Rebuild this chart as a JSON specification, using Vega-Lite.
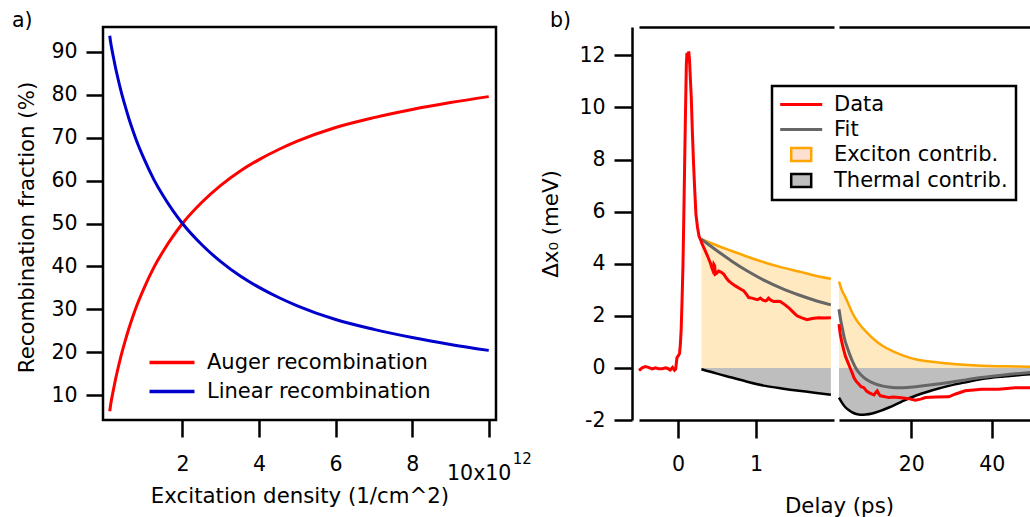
{
  "$schema": "https://vega.github.io/schema/vega-lite/v6.json",
  "padding": {"left": 10, "top": 9, "right": 0, "bottom": 0},
  "background": "white",
  "config": {
    "font": "DejaVu Sans",
    "view": {"stroke": null},
    "axis": {
      "labelFont": "DejaVu Sans", "labelFontSize": 20.5, "labelColor": "black",
      "titleFont": "DejaVu Sans", "titleFontSize": 21.3, "titleFontWeight": "normal", "titleColor": "black",
      "tickColor": "black", "tickWidth": 2.5, "domainColor": "black", "domainWidth": 2.5,
      "grid": false, "labelFlush": false, "labelOverlap": false
    },
    "legend": {"labelFont": "DejaVu Sans", "labelFontSize": 21, "labelColor": "black", "labelLimit": 400},
    "title": {"font": "DejaVu Sans", "fontSize": 20.5, "fontWeight": "normal", "color": "black"}
  },
  "datasets": {
    "recomb": [
      {"series": "Auger recombination", "x": 0.1, "y": 6.2},
      {"series": "Auger recombination", "x": 0.125, "y": 7.8},
      {"series": "Auger recombination", "x": 0.15, "y": 9.1},
      {"series": "Auger recombination", "x": 0.2, "y": 11.4},
      {"series": "Auger recombination", "x": 0.25, "y": 13.6},
      {"series": "Auger recombination", "x": 0.3, "y": 15.6},
      {"series": "Auger recombination", "x": 0.4, "y": 19.3},
      {"series": "Auger recombination", "x": 0.5, "y": 22.5},
      {"series": "Auger recombination", "x": 0.6, "y": 25.5},
      {"series": "Auger recombination", "x": 0.7, "y": 28.2},
      {"series": "Auger recombination", "x": 0.8, "y": 30.7},
      {"series": "Auger recombination", "x": 1.0, "y": 35.0},
      {"series": "Auger recombination", "x": 1.25, "y": 39.7},
      {"series": "Auger recombination", "x": 1.5, "y": 43.6},
      {"series": "Auger recombination", "x": 1.75, "y": 47.0},
      {"series": "Auger recombination", "x": 2.0, "y": 50.0},
      {"series": "Auger recombination", "x": 2.5, "y": 54.9},
      {"series": "Auger recombination", "x": 3.0, "y": 58.9},
      {"series": "Auger recombination", "x": 3.5, "y": 62.2},
      {"series": "Auger recombination", "x": 4.0, "y": 64.9},
      {"series": "Auger recombination", "x": 4.5, "y": 67.2},
      {"series": "Auger recombination", "x": 5.0, "y": 69.2},
      {"series": "Auger recombination", "x": 6.0, "y": 72.4},
      {"series": "Auger recombination", "x": 7.0, "y": 74.7},
      {"series": "Auger recombination", "x": 8.0, "y": 76.6},
      {"series": "Auger recombination", "x": 9.0, "y": 78.2},
      {"series": "Auger recombination", "x": 10.0, "y": 79.6},
      {"series": "Linear recombination", "x": 0.1, "y": 93.8},
      {"series": "Linear recombination", "x": 0.125, "y": 92.2},
      {"series": "Linear recombination", "x": 0.15, "y": 90.9},
      {"series": "Linear recombination", "x": 0.2, "y": 88.6},
      {"series": "Linear recombination", "x": 0.25, "y": 86.4},
      {"series": "Linear recombination", "x": 0.3, "y": 84.4},
      {"series": "Linear recombination", "x": 0.4, "y": 80.7},
      {"series": "Linear recombination", "x": 0.5, "y": 77.5},
      {"series": "Linear recombination", "x": 0.6, "y": 74.5},
      {"series": "Linear recombination", "x": 0.7, "y": 71.8},
      {"series": "Linear recombination", "x": 0.8, "y": 69.3},
      {"series": "Linear recombination", "x": 1.0, "y": 65.0},
      {"series": "Linear recombination", "x": 1.25, "y": 60.3},
      {"series": "Linear recombination", "x": 1.5, "y": 56.4},
      {"series": "Linear recombination", "x": 1.75, "y": 53.0},
      {"series": "Linear recombination", "x": 2.0, "y": 50.0},
      {"series": "Linear recombination", "x": 2.5, "y": 45.1},
      {"series": "Linear recombination", "x": 3.0, "y": 41.1},
      {"series": "Linear recombination", "x": 3.5, "y": 37.8},
      {"series": "Linear recombination", "x": 4.0, "y": 35.1},
      {"series": "Linear recombination", "x": 4.5, "y": 32.8},
      {"series": "Linear recombination", "x": 5.0, "y": 30.8},
      {"series": "Linear recombination", "x": 6.0, "y": 27.6},
      {"series": "Linear recombination", "x": 7.0, "y": 25.3},
      {"series": "Linear recombination", "x": 8.0, "y": 23.4},
      {"series": "Linear recombination", "x": 9.0, "y": 21.8},
      {"series": "Linear recombination", "x": 10.0, "y": 20.4}
    ],
    "delay": [
      {"seg": 1, "series": "Data", "x": -0.5, "y": -0.1},
      {"seg": 1, "series": "Data", "x": -0.46, "y": 0.0},
      {"seg": 1, "series": "Data", "x": -0.42, "y": 0.05},
      {"seg": 1, "series": "Data", "x": -0.38, "y": 0.02},
      {"seg": 1, "series": "Data", "x": -0.33, "y": -0.04},
      {"seg": 1, "series": "Data", "x": -0.29, "y": 0.0},
      {"seg": 1, "series": "Data", "x": -0.25, "y": -0.03},
      {"seg": 1, "series": "Data", "x": -0.2, "y": -0.03},
      {"seg": 1, "series": "Data", "x": -0.16, "y": 0.0},
      {"seg": 1, "series": "Data", "x": -0.13, "y": -0.02},
      {"seg": 1, "series": "Data", "x": -0.1, "y": -0.08},
      {"seg": 1, "series": "Data", "x": -0.07, "y": 0.02},
      {"seg": 1, "series": "Data", "x": -0.045, "y": -0.09},
      {"seg": 1, "series": "Data", "x": -0.03, "y": -0.05},
      {"seg": 1, "series": "Data", "x": -0.013, "y": 0.4},
      {"seg": 1, "series": "Data", "x": 0.0, "y": 0.45},
      {"seg": 1, "series": "Data", "x": 0.02, "y": 0.55},
      {"seg": 1, "series": "Data", "x": 0.03, "y": 0.9},
      {"seg": 1, "series": "Data", "x": 0.04, "y": 1.42},
      {"seg": 1, "series": "Data", "x": 0.052, "y": 2.6},
      {"seg": 1, "series": "Data", "x": 0.064, "y": 3.98},
      {"seg": 1, "series": "Data", "x": 0.075, "y": 5.9},
      {"seg": 1, "series": "Data", "x": 0.085, "y": 7.8},
      {"seg": 1, "series": "Data", "x": 0.096, "y": 9.8},
      {"seg": 1, "series": "Data", "x": 0.107, "y": 11.66},
      {"seg": 1, "series": "Data", "x": 0.115, "y": 12.1},
      {"seg": 1, "series": "Data", "x": 0.127, "y": 11.9},
      {"seg": 1, "series": "Data", "x": 0.138, "y": 12.15},
      {"seg": 1, "series": "Data", "x": 0.148, "y": 11.8},
      {"seg": 1, "series": "Data", "x": 0.16, "y": 11.0},
      {"seg": 1, "series": "Data", "x": 0.17, "y": 10.4},
      {"seg": 1, "series": "Data", "x": 0.185, "y": 9.0},
      {"seg": 1, "series": "Data", "x": 0.2, "y": 7.8},
      {"seg": 1, "series": "Data", "x": 0.215, "y": 6.8},
      {"seg": 1, "series": "Data", "x": 0.23, "y": 5.9},
      {"seg": 1, "series": "Data", "x": 0.25, "y": 5.4},
      {"seg": 1, "series": "Data", "x": 0.27, "y": 5.05},
      {"seg": 1, "series": "Data", "x": 0.29, "y": 4.92},
      {"seg": 1, "series": "Data", "x": 0.31, "y": 4.75},
      {"seg": 1, "series": "Data", "x": 0.35, "y": 4.49},
      {"seg": 1, "series": "Data", "x": 0.385, "y": 4.25},
      {"seg": 1, "series": "Data", "x": 0.414, "y": 4.04},
      {"seg": 1, "series": "Data", "x": 0.432, "y": 3.85},
      {"seg": 1, "series": "Data", "x": 0.445, "y": 3.75},
      {"seg": 1, "series": "Data", "x": 0.458, "y": 3.98},
      {"seg": 1, "series": "Data", "x": 0.47, "y": 3.92},
      {"seg": 1, "series": "Data", "x": 0.478, "y": 3.6},
      {"seg": 1, "series": "Data", "x": 0.495, "y": 3.63},
      {"seg": 1, "series": "Data", "x": 0.52, "y": 3.72},
      {"seg": 1, "series": "Data", "x": 0.55, "y": 3.68},
      {"seg": 1, "series": "Data", "x": 0.586, "y": 3.6},
      {"seg": 1, "series": "Data", "x": 0.62, "y": 3.45},
      {"seg": 1, "series": "Data", "x": 0.65, "y": 3.34},
      {"seg": 1, "series": "Data", "x": 0.7, "y": 3.22},
      {"seg": 1, "series": "Data", "x": 0.735, "y": 3.15},
      {"seg": 1, "series": "Data", "x": 0.79, "y": 3.05},
      {"seg": 1, "series": "Data", "x": 0.842, "y": 2.96},
      {"seg": 1, "series": "Data", "x": 0.875, "y": 2.84},
      {"seg": 1, "series": "Data", "x": 0.906, "y": 2.7},
      {"seg": 1, "series": "Data", "x": 0.95, "y": 2.68},
      {"seg": 1, "series": "Data", "x": 0.99, "y": 2.64},
      {"seg": 1, "series": "Data", "x": 1.02, "y": 2.62},
      {"seg": 1, "series": "Data", "x": 1.055, "y": 2.68},
      {"seg": 1, "series": "Data", "x": 1.09, "y": 2.6},
      {"seg": 1, "series": "Data", "x": 1.12, "y": 2.57},
      {"seg": 1, "series": "Data", "x": 1.14, "y": 2.6},
      {"seg": 1, "series": "Data", "x": 1.16, "y": 2.68},
      {"seg": 1, "series": "Data", "x": 1.19, "y": 2.6},
      {"seg": 1, "series": "Data", "x": 1.227, "y": 2.55},
      {"seg": 1, "series": "Data", "x": 1.27, "y": 2.56},
      {"seg": 1, "series": "Data", "x": 1.31, "y": 2.55},
      {"seg": 1, "series": "Data", "x": 1.36, "y": 2.45},
      {"seg": 1, "series": "Data", "x": 1.42, "y": 2.31},
      {"seg": 1, "series": "Data", "x": 1.47, "y": 2.16},
      {"seg": 1, "series": "Data", "x": 1.525, "y": 2.0},
      {"seg": 1, "series": "Data", "x": 1.58, "y": 1.93},
      {"seg": 1, "series": "Data", "x": 1.654, "y": 1.85},
      {"seg": 1, "series": "Data", "x": 1.72, "y": 1.9},
      {"seg": 1, "series": "Data", "x": 1.8, "y": 1.93},
      {"seg": 1, "series": "Data", "x": 1.88, "y": 1.92},
      {"seg": 1, "series": "Data", "x": 1.96, "y": 1.93},
      {"seg": 1, "series": "Fit", "x": 0.3, "y": 4.94},
      {"seg": 1, "series": "Fit", "x": 0.5, "y": 4.5},
      {"seg": 1, "series": "Fit", "x": 0.69, "y": 4.1},
      {"seg": 1, "series": "Fit", "x": 0.9, "y": 3.7},
      {"seg": 1, "series": "Fit", "x": 1.12, "y": 3.34},
      {"seg": 1, "series": "Fit", "x": 1.33, "y": 3.05},
      {"seg": 1, "series": "Fit", "x": 1.55, "y": 2.8},
      {"seg": 1, "series": "Fit", "x": 1.75, "y": 2.6},
      {"seg": 1, "series": "Fit", "x": 1.96, "y": 2.42},
      {"seg": 1, "series": "Exciton contrib.", "x": 0.3, "y": 4.94},
      {"seg": 1, "series": "Exciton contrib.", "x": 0.5, "y": 4.7},
      {"seg": 1, "series": "Exciton contrib.", "x": 0.69, "y": 4.49},
      {"seg": 1, "series": "Exciton contrib.", "x": 0.9, "y": 4.26},
      {"seg": 1, "series": "Exciton contrib.", "x": 1.12, "y": 4.04},
      {"seg": 1, "series": "Exciton contrib.", "x": 1.33, "y": 3.86},
      {"seg": 1, "series": "Exciton contrib.", "x": 1.55, "y": 3.7},
      {"seg": 1, "series": "Exciton contrib.", "x": 1.75, "y": 3.55},
      {"seg": 1, "series": "Exciton contrib.", "x": 1.96, "y": 3.42},
      {"seg": 1, "series": "Thermal contrib.", "x": 0.3, "y": -0.05},
      {"seg": 1, "series": "Thermal contrib.", "x": 0.5, "y": -0.22},
      {"seg": 1, "series": "Thermal contrib.", "x": 0.69, "y": -0.37},
      {"seg": 1, "series": "Thermal contrib.", "x": 0.9, "y": -0.54},
      {"seg": 1, "series": "Thermal contrib.", "x": 1.12, "y": -0.69},
      {"seg": 1, "series": "Thermal contrib.", "x": 1.33, "y": -0.79},
      {"seg": 1, "series": "Thermal contrib.", "x": 1.55, "y": -0.88},
      {"seg": 1, "series": "Thermal contrib.", "x": 1.75, "y": -0.95},
      {"seg": 1, "series": "Thermal contrib.", "x": 1.96, "y": -1.03},
      {"seg": 2, "series": "Data", "x": 2.0, "y": 1.68},
      {"seg": 2, "series": "Data", "x": 2.3, "y": 1.3},
      {"seg": 2, "series": "Data", "x": 2.64, "y": 1.04},
      {"seg": 2, "series": "Data", "x": 3.0, "y": 0.8},
      {"seg": 2, "series": "Data", "x": 3.24, "y": 0.65},
      {"seg": 2, "series": "Data", "x": 3.6, "y": 0.45},
      {"seg": 2, "series": "Data", "x": 4.06, "y": 0.27},
      {"seg": 2, "series": "Data", "x": 4.5, "y": 0.1},
      {"seg": 2, "series": "Data", "x": 4.9, "y": -0.05},
      {"seg": 2, "series": "Data", "x": 5.3, "y": -0.2},
      {"seg": 2, "series": "Data", "x": 5.7, "y": -0.37},
      {"seg": 2, "series": "Data", "x": 6.3, "y": -0.52},
      {"seg": 2, "series": "Data", "x": 6.96, "y": -0.63},
      {"seg": 2, "series": "Data", "x": 7.5, "y": -0.72},
      {"seg": 2, "series": "Data", "x": 8.2, "y": -0.76},
      {"seg": 2, "series": "Data", "x": 8.8, "y": -0.88},
      {"seg": 2, "series": "Data", "x": 9.44, "y": -0.95},
      {"seg": 2, "series": "Data", "x": 10.1, "y": -1.0},
      {"seg": 2, "series": "Data", "x": 10.7, "y": -1.04},
      {"seg": 2, "series": "Data", "x": 11.1, "y": -0.95},
      {"seg": 2, "series": "Data", "x": 11.5, "y": -0.88},
      {"seg": 2, "series": "Data", "x": 11.9, "y": -1.0},
      {"seg": 2, "series": "Data", "x": 12.3, "y": -1.07},
      {"seg": 2, "series": "Data", "x": 13.2, "y": -1.1},
      {"seg": 2, "series": "Data", "x": 14.4, "y": -1.14},
      {"seg": 2, "series": "Data", "x": 15.5, "y": -1.12},
      {"seg": 2, "series": "Data", "x": 16.9, "y": -1.14},
      {"seg": 2, "series": "Data", "x": 19.0, "y": -1.17},
      {"seg": 2, "series": "Data", "x": 21.0, "y": -1.24},
      {"seg": 2, "series": "Data", "x": 22.3, "y": -1.2},
      {"seg": 2, "series": "Data", "x": 23.5, "y": -1.14},
      {"seg": 2, "series": "Data", "x": 26.0, "y": -1.12},
      {"seg": 2, "series": "Data", "x": 29.3, "y": -1.11},
      {"seg": 2, "series": "Data", "x": 31.0, "y": -1.0},
      {"seg": 2, "series": "Data", "x": 33.4, "y": -0.88},
      {"seg": 2, "series": "Data", "x": 35.5, "y": -0.85},
      {"seg": 2, "series": "Data", "x": 37.5, "y": -0.82},
      {"seg": 2, "series": "Data", "x": 41.7, "y": -0.82},
      {"seg": 2, "series": "Data", "x": 45.8, "y": -0.76},
      {"seg": 2, "series": "Data", "x": 50.0, "y": -0.76},
      {"seg": 2, "series": "Fit", "x": 2.0, "y": 2.25},
      {"seg": 2, "series": "Fit", "x": 2.4, "y": 1.85},
      {"seg": 2, "series": "Fit", "x": 2.8, "y": 1.55},
      {"seg": 2, "series": "Fit", "x": 3.4, "y": 1.1},
      {"seg": 2, "series": "Fit", "x": 4.06, "y": 0.78},
      {"seg": 2, "series": "Fit", "x": 4.7, "y": 0.5},
      {"seg": 2, "series": "Fit", "x": 5.3, "y": 0.27},
      {"seg": 2, "series": "Fit", "x": 6.1, "y": 0.02},
      {"seg": 2, "series": "Fit", "x": 6.96, "y": -0.18},
      {"seg": 2, "series": "Fit", "x": 8.2, "y": -0.37},
      {"seg": 2, "series": "Fit", "x": 9.44, "y": -0.5},
      {"seg": 2, "series": "Fit", "x": 11.0, "y": -0.61},
      {"seg": 2, "series": "Fit", "x": 12.7, "y": -0.69},
      {"seg": 2, "series": "Fit", "x": 14.8, "y": -0.74},
      {"seg": 2, "series": "Fit", "x": 16.9, "y": -0.76},
      {"seg": 2, "series": "Fit", "x": 19.0, "y": -0.75},
      {"seg": 2, "series": "Fit", "x": 21.0, "y": -0.72},
      {"seg": 2, "series": "Fit", "x": 25.0, "y": -0.65},
      {"seg": 2, "series": "Fit", "x": 29.3, "y": -0.56},
      {"seg": 2, "series": "Fit", "x": 33.5, "y": -0.46},
      {"seg": 2, "series": "Fit", "x": 37.5, "y": -0.37},
      {"seg": 2, "series": "Fit", "x": 43.0, "y": -0.27},
      {"seg": 2, "series": "Fit", "x": 50.0, "y": -0.17},
      {"seg": 2, "series": "Exciton contrib.", "x": 2.0, "y": 3.31},
      {"seg": 2, "series": "Exciton contrib.", "x": 2.8, "y": 2.95},
      {"seg": 2, "series": "Exciton contrib.", "x": 3.64, "y": 2.7},
      {"seg": 2, "series": "Exciton contrib.", "x": 4.5, "y": 2.4},
      {"seg": 2, "series": "Exciton contrib.", "x": 5.3, "y": 2.12},
      {"seg": 2, "series": "Exciton contrib.", "x": 6.5, "y": 1.8},
      {"seg": 2, "series": "Exciton contrib.", "x": 7.78, "y": 1.55},
      {"seg": 2, "series": "Exciton contrib.", "x": 9.5, "y": 1.27},
      {"seg": 2, "series": "Exciton contrib.", "x": 11.1, "y": 1.04},
      {"seg": 2, "series": "Exciton contrib.", "x": 13.0, "y": 0.83},
      {"seg": 2, "series": "Exciton contrib.", "x": 15.2, "y": 0.65},
      {"seg": 2, "series": "Exciton contrib.", "x": 18.0, "y": 0.47},
      {"seg": 2, "series": "Exciton contrib.", "x": 21.0, "y": 0.33},
      {"seg": 2, "series": "Exciton contrib.", "x": 25.0, "y": 0.24},
      {"seg": 2, "series": "Exciton contrib.", "x": 29.3, "y": 0.17},
      {"seg": 2, "series": "Exciton contrib.", "x": 33.0, "y": 0.12},
      {"seg": 2, "series": "Exciton contrib.", "x": 37.5, "y": 0.08},
      {"seg": 2, "series": "Exciton contrib.", "x": 43.0, "y": 0.06},
      {"seg": 2, "series": "Exciton contrib.", "x": 50.0, "y": 0.04},
      {"seg": 2, "series": "Thermal contrib.", "x": 2.0, "y": -1.14},
      {"seg": 2, "series": "Thermal contrib.", "x": 2.8, "y": -1.35},
      {"seg": 2, "series": "Thermal contrib.", "x": 3.64, "y": -1.52},
      {"seg": 2, "series": "Thermal contrib.", "x": 4.5, "y": -1.63},
      {"seg": 2, "series": "Thermal contrib.", "x": 5.3, "y": -1.71},
      {"seg": 2, "series": "Thermal contrib.", "x": 6.3, "y": -1.77},
      {"seg": 2, "series": "Thermal contrib.", "x": 7.36, "y": -1.8},
      {"seg": 2, "series": "Thermal contrib.", "x": 8.7, "y": -1.79},
      {"seg": 2, "series": "Thermal contrib.", "x": 10.25, "y": -1.75},
      {"seg": 2, "series": "Thermal contrib.", "x": 12.3, "y": -1.65},
      {"seg": 2, "series": "Thermal contrib.", "x": 14.4, "y": -1.52},
      {"seg": 2, "series": "Thermal contrib.", "x": 17.5, "y": -1.3},
      {"seg": 2, "series": "Thermal contrib.", "x": 21.0, "y": -1.07},
      {"seg": 2, "series": "Thermal contrib.", "x": 25.0, "y": -0.87},
      {"seg": 2, "series": "Thermal contrib.", "x": 29.3, "y": -0.69},
      {"seg": 2, "series": "Thermal contrib.", "x": 33.5, "y": -0.55},
      {"seg": 2, "series": "Thermal contrib.", "x": 37.5, "y": -0.43},
      {"seg": 2, "series": "Thermal contrib.", "x": 43.0, "y": -0.33},
      {"seg": 2, "series": "Thermal contrib.", "x": 50.0, "y": -0.24}
    ]
  },
  "spacing": 143,
  "bounds": "flush",
  "resolve": {"scale": {"color": "independent"}, "legend": {"color": "independent"}},
  "hconcat": [
    {
      "width": 393,
      "height": 393,
      "title": {"text": "a)", "anchor": "start", "frame": "group", "dx": -91, "offset": -20, "baseline": "alphabetic"},
      "view": {"stroke": "black", "strokeWidth": 2.5},
      "data": {"name": "recomb"},
      "resolve": {"axis": {"x": "independent"}},
      "layer": [
        {
          "mark": {"type": "line", "strokeWidth": 3, "interpolate": "monotone"},
          "encoding": {
            "x": {
              "field": "x", "type": "quantitative",
              "scale": {"domain": [-0.076, 10.19], "nice": false, "zero": false},
              "axis": {
                "values": [2, 4, 6, 8, 10], "tickSize": 17, "domain": false,
                "labelPadding": {"condition": {"test": "datum.value == 10", "value": 26}, "value": 17},
                "labelOffset": {"condition": {"test": "datum.value == 10", "value": -10}, "value": 0},
                "labelExpr": "datum.value == 10 ? '10x10' : datum.label",
                "title": "Excitation density (1/cm^2)", "titleX": 196.5, "titleY": 76, "titleBaseline": "middle", "titleAlign": "center"
              }
            },
            "y": {
              "field": "y", "type": "quantitative",
              "scale": {"domain": [4.17, 95.83], "nice": false, "zero": false},
              "axis": {
                "values": [10, 20, 30, 40, 50, 60, 70, 80, 90], "tickSize": 17, "domain": false, "labelPadding": 9,
                "title": "Recombination fraction (%)", "titleX": -76, "titleY": 200, "titleAngle": -90, "titleBaseline": "middle", "titleAlign": "center"
              }
            },
            "color": {
              "field": "series", "type": "nominal",
              "scale": {"domain": ["Auger recombination", "Linear recombination"], "range": ["#ff0000", "#0000cc"]},
              "legend": {
                "orient": "none", "legendX": 49, "legendY": 325, "title": null, "padding": 0,
                "symbolType": "M-2.6,0H6.4", "symbolSize": 100, "symbolStrokeWidth": 3.5,
                "labelOffset": 34, "rowPadding": 7
              }
            }
          }
        },
        {
          "mark": {"type": "rule", "opacity": 0},
          "encoding": {
            "x": {
              "field": "x", "type": "quantitative",
              "scale": {"domain": [-0.076, 10.19], "nice": false, "zero": false},
              "axis": {
                "orient": "bottom", "values": [10], "labelExpr": "'12'", "labelFontSize": 15,
                "tickSize": 17, "tickOpacity": 0, "domain": false, "labelPadding": 14, "labelOffset": 33, "title": null
              }
            }
          }
        }
      ]
    },
    {
      "spacing": 5,
      "bounds": "flush",
      "resolve": {"scale": {"color": "independent", "x": "independent", "y": "independent"}, "legend": {"color": "independent"}},
      "hconcat": [
        {
          "width": 195,
          "height": 393,
          "title": {"text": "b)", "anchor": "start", "frame": "group", "dx": -89, "offset": -20, "baseline": "alphabetic"},
          "data": {"name": "delay"},
          "transform": [{"filter": "datum.seg == 1"}],
          "resolve": {"axis": {"x": "independent"}},
          "layer": [
            {
              "transform": [{"filter": "datum.series == 'Exciton contrib.'"}],
              "mark": {"type": "area", "color": "#ffe9c0", "opacity": 1, "interpolate": "monotone"},
              "encoding": {
                "x": {
                  "field": "x", "type": "quantitative", "scale": {"domain": [-0.5, 2], "nice": false, "zero": false},
                  "axis": {
                    "values": [0, 1], "tickSize": 18, "labelPadding": 16,
                    "title": "Delay (ps)", "titleX": 200, "titleY": 86, "titleBaseline": "middle", "titleAlign": "center"
                  }
                },
                "y": {
                  "field": "y", "type": "quantitative", "scale": {"domain": [-2, 13.09], "nice": false, "zero": false},
                  "axis": {
                    "values": [-2, 0, 2, 4, 6, 8, 10, 12], "offset": 7, "tickSize": 18, "labelPadding": 9,
                    "labelExpr": "'' + datum.value",
                    "title": "Δx₀ (meV)", "titleX": -81, "titleY": 196.5, "titleAngle": -90, "titleBaseline": "middle", "titleAlign": "center"
                  }
                },
                "y2": {"datum": 0}
              }
            },
            {
              "transform": [{"filter": "datum.series == 'Thermal contrib.'"}],
              "mark": {"type": "area", "color": "#bebebe", "opacity": 1, "interpolate": "monotone"},
              "encoding": {
                "x": {
                  "field": "x", "type": "quantitative", "scale": {"domain": [-0.5, 2], "nice": false, "zero": false},
                  "axis": {"orient": "top", "ticks": false, "labels": false, "title": null, "domain": true}
                },
                "y": {"field": "y", "type": "quantitative"},
                "y2": {"datum": 0}
              }
            },
            {
              "transform": [{"filter": "datum.series == 'Exciton contrib.' || datum.series == 'Thermal contrib.'"}],
              "mark": {"type": "line", "strokeWidth": 2.5, "interpolate": "monotone"},
              "encoding": {
                "x": {"field": "x", "type": "quantitative", "axis": null},
                "y": {"field": "y", "type": "quantitative"},
                "color": {
                  "field": "series", "type": "nominal",
                  "scale": {"domain": ["Data", "Fit", "Exciton contrib.", "Thermal contrib."], "range": ["#ff0000", "#666666", "#ffa500", "#000000"]},
                  "legend": {
                    "orient": "none", "legendX": 133, "legendY": 59, "title": null, "padding": 8,
                    "strokeColor": "black", "fillColor": "white",
                    "symbolType": "M-2.06,0H6.34", "symbolSize": 100, "symbolStrokeWidth": 3,
                    "labelOffset": 33, "rowPadding": 3,
                    "encode": {
                      "legend": {"update": {"strokeWidth": {"value": 2.5}}},
                      "symbols": {"update": {
                        "shape": {"signal": "datum.value === 'Exciton contrib.' || datum.value === 'Thermal contrib.' ? 'M0.14,-1.3H4.14V1.3H0.14Z' : 'M-2.06,0H6.34'"},
                        "fill": {"signal": "datum.value === 'Exciton contrib.' ? '#fde0d2' : datum.value === 'Thermal contrib.' ? '#bebebe' : 'transparent'"},
                        "strokeWidth": {"signal": "datum.value === 'Exciton contrib.' || datum.value === 'Thermal contrib.' ? 2.5 : 3"}
                      }}
                    }
                  }
                }
              }
            },
            {
              "transform": [{"filter": "datum.series == 'Fit'"}],
              "mark": {"type": "line", "strokeWidth": 3, "interpolate": "monotone"},
              "encoding": {
                "x": {"field": "x", "type": "quantitative", "axis": null},
                "y": {"field": "y", "type": "quantitative"},
                "color": {"field": "series", "type": "nominal"}
              }
            },
            {
              "transform": [{"filter": "datum.series == 'Data'"}],
              "mark": {"type": "line", "strokeWidth": 3},
              "encoding": {
                "x": {"field": "x", "type": "quantitative", "axis": null},
                "y": {"field": "y", "type": "quantitative"},
                "color": {"field": "series", "type": "nominal"}
              }
            }
          ]
        },
        {
          "width": 193,
          "height": 393,
          "data": {"name": "delay"},
          "transform": [{"filter": "datum.seg == 2"}],
          "resolve": {"axis": {"x": "independent"}},
          "layer": [
            {
              "transform": [{"filter": "datum.series == 'Exciton contrib.'"}],
              "mark": {"type": "area", "color": "#ffe9c0", "opacity": 1, "interpolate": "monotone"},
              "encoding": {
                "x": {
                  "field": "x", "type": "quantitative", "scale": {"domain": [2, 50], "nice": false, "zero": false},
                  "axis": {"values": [20, 40], "tickSize": 18, "labelPadding": 16, "title": null}
                },
                "y": {
                  "field": "y", "type": "quantitative", "scale": {"domain": [-2, 13.09], "nice": false, "zero": false},
                  "axis": null
                },
                "y2": {"datum": 0}
              }
            },
            {
              "transform": [{"filter": "datum.series == 'Thermal contrib.'"}],
              "mark": {"type": "area", "color": "#bebebe", "opacity": 1, "interpolate": "monotone"},
              "encoding": {
                "x": {
                  "field": "x", "type": "quantitative", "scale": {"domain": [2, 50], "nice": false, "zero": false},
                  "axis": {"orient": "top", "ticks": false, "labels": false, "title": null, "domain": true}
                },
                "y": {"field": "y", "type": "quantitative", "axis": null},
                "y2": {"datum": 0}
              }
            },
            {
              "transform": [{"filter": "datum.series == 'Exciton contrib.' || datum.series == 'Thermal contrib.'"}],
              "mark": {"type": "line", "strokeWidth": 2.5, "interpolate": "monotone"},
              "encoding": {
                "x": {"field": "x", "type": "quantitative", "axis": null},
                "y": {"field": "y", "type": "quantitative", "axis": null},
                "color": {
                  "field": "series", "type": "nominal",
                  "scale": {"domain": ["Data", "Fit", "Exciton contrib.", "Thermal contrib."], "range": ["#ff0000", "#666666", "#ffa500", "#000000"]},
                  "legend": null
                }
              }
            },
            {
              "transform": [{"filter": "datum.series == 'Fit'"}],
              "mark": {"type": "line", "strokeWidth": 3, "interpolate": "monotone"},
              "encoding": {
                "x": {"field": "x", "type": "quantitative", "axis": null},
                "y": {"field": "y", "type": "quantitative", "axis": null},
                "color": {"field": "series", "type": "nominal", "legend": null}
              }
            },
            {
              "transform": [{"filter": "datum.series == 'Data'"}],
              "mark": {"type": "line", "strokeWidth": 3},
              "encoding": {
                "x": {"field": "x", "type": "quantitative", "axis": null},
                "y": {"field": "y", "type": "quantitative", "axis": null},
                "color": {"field": "series", "type": "nominal", "legend": null}
              }
            }
          ]
        }
      ]
    }
  ]
}
